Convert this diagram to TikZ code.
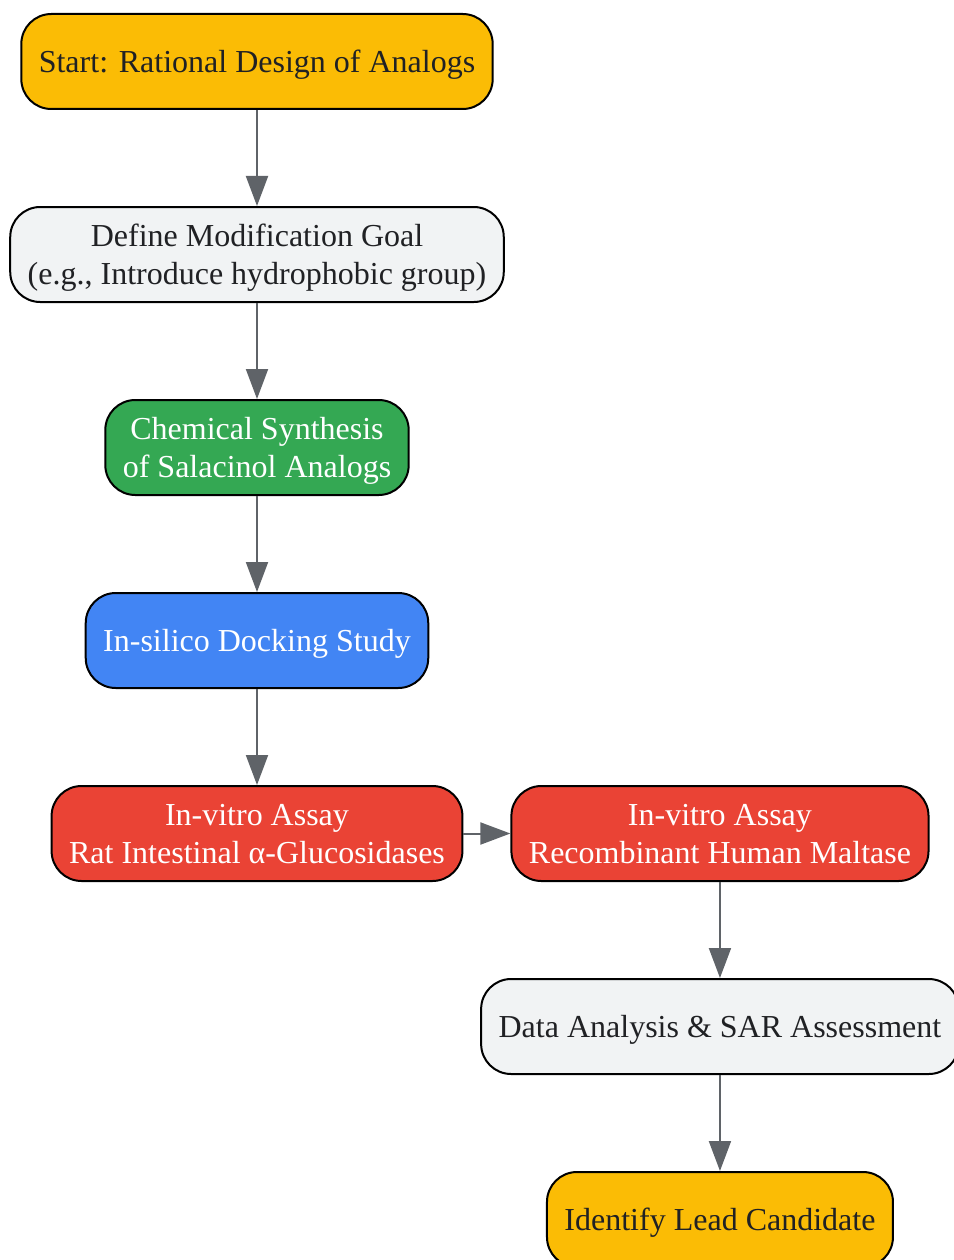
\documentclass[tikz,border=0pt]{standalone}
\usepackage{fontspec}
\setmainfont{Liberation Serif}
\definecolor{yellow}{RGB}{251, 188, 5}
\definecolor{lightgray}{RGB}{241, 243, 244}
\definecolor{green}{RGB}{52, 168, 83}
\definecolor{blue}{RGB}{66, 133, 244}
\definecolor{red}{RGB}{234, 67, 53}
\definecolor{ink}{RGB}{32, 33, 36}
\definecolor{arrowgray}{RGB}{95, 99, 104}
\usetikzlibrary{arrows.meta}
\usetikzlibrary{positioning}
\tikzset{
  box/.style={
    draw=black, line width=2pt, rounded corners=30pt,
    minimum height=95pt, inner xsep=17.5pt, text depth=0pt, align=center,
    font=\fontsize{32}{38}\selectfont, text=ink
  },
  arrow/.style={-{Triangle[length=30pt,width=22pt]}, draw=arrowgray, line width=2pt}
}
\begin{document}
\begin{tikzpicture}[node distance=96pt and 47pt]
  \useasboundingbox (0,0) rectangle (953pt,-1260pt);
  \node[box, fill=yellow] (start) at (257pt,-61.5pt) {Start: Rational Design of Analogs};
  \node[box, fill=lightgray, below=of start] (goal) {Define Modification Goal\\(e.g., Introduce hydrophobic group)};
  \node[box, fill=green, text=white, below=of goal] (synth) {Chemical Synthesis\\of Salacinol Analogs};
  \node[box, fill=blue, text=white, below=of synth] (dock) {In-silico Docking Study};
  \node[box, fill=red, text=white, below=of dock] (rat) {In-vitro Assay\\Rat Intestinal α-Glucosidases};
  \node[box, fill=red, text=white, right=of rat] (human) {In-vitro Assay\\Recombinant Human Maltase};
  \node[box, fill=lightgray, below=of human] (sar) {Data Analysis \& SAR Assessment};
  \node[box, fill=yellow, below=of sar] (lead) {Identify Lead Candidate};

  \draw[arrow] (start) -- (goal);
  \draw[arrow] (goal) -- (synth);
  \draw[arrow] (synth) -- (dock);
  \draw[arrow] (dock) -- (rat);
  \draw[arrow] (rat) -- (human);
  \draw[arrow] (human) -- (sar);
  \draw[arrow] (sar) -- (lead);
\end{tikzpicture}
\end{document}
